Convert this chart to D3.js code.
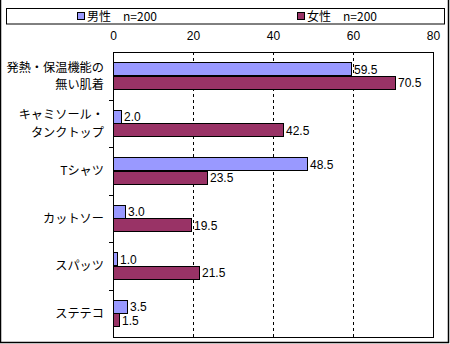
<!DOCTYPE html>
<html><head><meta charset="utf-8">
<script src="https://cdn.jsdelivr.net/npm/d3@7"></script>
<style>body{margin:0;background:#fff}svg{display:block;font-family:"Noto Sans CJK JP","Liberation Sans",sans-serif}</style>
</head><body>
<script>
const categories = [["発熱・保温機能の","無い肌着"],["キャミソール・","タンクトップ"],["Tシャツ"],["カットソー"],["スパッツ"],["ステテコ"]];
const seriesNames = ["男性\u3000n=200","女性\u3000n=200"];
const male = [59.5, 2.0, 48.5, 3.0, 1.0, 3.5];
const female = [70.5, 42.5, 23.5, 19.5, 21.5, 1.5];
const xTicks = [0,20,40,60,80];
const colors = ["#9999FF","#993366"];

(function(){
const W=450,H=344;
const svg=d3.select("body").append("svg").attr("width",W).attr("height",H);
const pL=113,pR=433,pT=52,pB=337;
const x=d3.scaleLinear().domain([0,80]).range([pL,pR]);
const y=d3.scaleBand().domain(d3.range(categories.length)).range([pT,pB]);
const inner=d3.scaleBand().domain([0,1]).range([0,27]);
const off=(y.bandwidth()-27)/2;

// outer frame
svg.append("rect").attr("x",0.5).attr("y",-2).attr("width",448).attr("height",344.5).attr("fill","none").attr("stroke","#000").attr("stroke-width",1.5);

// legend
svg.append("rect").attr("x",6.5).attr("y",8.5).attr("width",438).attr("height",15.5).attr("fill","#fff").attr("stroke","#000");
const lx=[77,297];
seriesNames.forEach((s,i)=>{
  svg.append("rect").attr("x",lx[i]+0.5).attr("y",12.5).attr("width",7).attr("height",7).attr("fill",colors[i]).attr("stroke","#000");
  svg.append("text").attr("x",lx[i]+10).attr("y",20.5).attr("font-size",12).text(s);
});

// grid
svg.append("g").selectAll("line").data(xTicks.filter(t=>t>0&&t<80)).join("line")
  .attr("x1",d=>Math.round(x(d))+0.5).attr("x2",d=>Math.round(x(d))+0.5).attr("y1",pT).attr("y2",pB)
  .attr("stroke","#000").attr("stroke-dasharray","3,3");

// x axis labels top
const ax=d3.axisTop(x).tickValues(xTicks).tickSize(0).tickPadding(0);
const gx=svg.append("g").attr("transform",`translate(0,${pT-12})`).call(ax);
gx.select(".domain").remove();
gx.selectAll("text").attr("font-size",12).attr("fill","#000").attr("font-family","'Liberation Sans',sans-serif");

// plot border
svg.append("rect").attr("x",pL+0.5).attr("y",pT+0.5).attr("width",pR-pL).attr("height",pB-pT).attr("fill","none").attr("stroke","#000");

// y axis ticks
svg.append("g").selectAll("line").data(d3.range(1,categories.length)).join("line")
  .attr("x1",pL-4).attr("x2",pL).attr("y1",d=>Math.round(y(d))+0.5).attr("y2",d=>Math.round(y(d))+0.5).attr("stroke","#000");

// category labels
categories.forEach((c,i)=>{
  const cy=y(i)+y.bandwidth()/2;
  const t=svg.append("text").attr("text-anchor","end").attr("font-size",12.2);
  c.forEach((line,j)=>{
    t.append("tspan").attr("x",104).attr("y",cy+4.5+(j-(c.length-1)/2)*17.5).text(line);
  });
});

// bars
[male,female].forEach((vals,si)=>{
  const g=svg.append("g");
  g.selectAll("rect").data(vals).join("rect")
    .attr("x",pL+0.5).attr("y",(d,i)=>Math.round(y(i)+off+inner(si))+0.5)
    .attr("width",d=>x(d)-x(0)).attr("height",13)
    .attr("fill",colors[si]).attr("stroke","#000");
  g.selectAll("text").data(vals).join("text")
    .attr("x",d=>x(d)+3).attr("y",(d,i)=>y(i)+off+inner(si)+11.5)
    .attr("font-size",12).attr("font-family","'Liberation Sans',sans-serif")
    .text(d=>d.toFixed(1));
});
})();
</script>
</body></html>
